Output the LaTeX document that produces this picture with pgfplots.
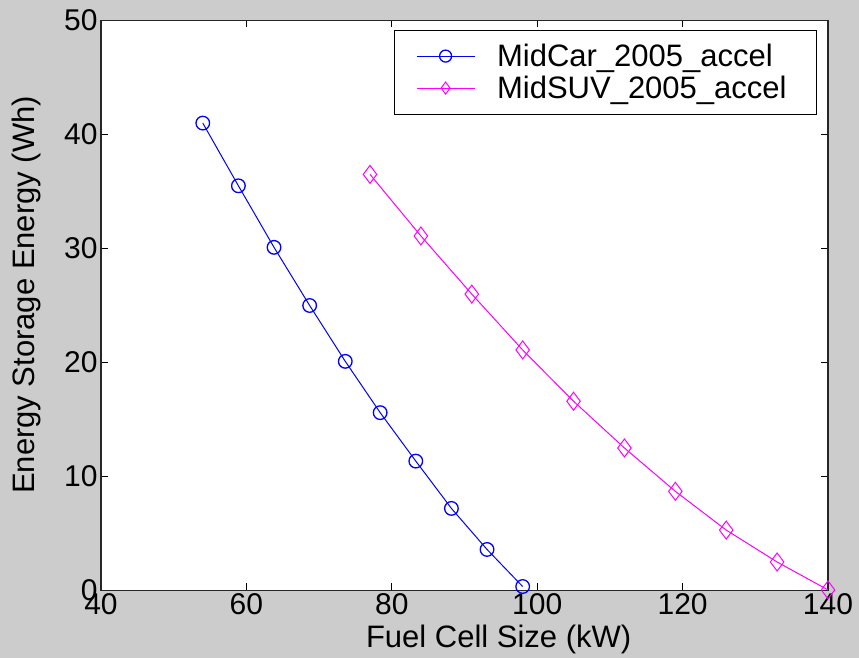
\documentclass[border=0pt]{standalone}
\usepackage{fontspec}
\setmainfont{Liberation Sans}
\usepackage{pgfplots}
\pgfplotsset{compat=1.18}
\definecolor{bggray}{RGB}{204,204,204}
\definecolor{mblue}{RGB}{0,0,255}
\definecolor{mmag}{RGB}{255,0,255}
\begin{document}
\begin{tikzpicture}
\fill[bggray] (0,0) rectangle (859pt,658pt);
\begin{axis}[
  at={(101pt,67.5pt)}, anchor=south west,
  scale only axis, width=727pt, height=570pt,
  xmin=40, xmax=140, ymin=0, ymax=50,
  xtick={40,60,...,140}, ytick={0,10,...,50},
  tick align=inside, major tick length=7pt,
  tick style={black, line width=1pt},
  axis line style={line width=1.3pt, black!85},
  axis background/.style={fill=white},
  /pgf/number format/assume math mode=true,
  ticklabel style={font=\fontsize{30}{36}\selectfont},
  label style={font=\fontsize{31}{37}\selectfont},
  xlabel={Fuel Cell Size (kW)},
  ylabel={Energy Storage Energy (Wh)},
  xlabel style={at={(axis description cs:0.547,-0.1004)}, anchor=base, inner sep=0pt},
  ylabel style={at={(axis description cs:-0.1025,0.5186)}, anchor=center, inner sep=0pt},
  legend style={draw=black, line width=1pt, fill=white, at={(axis description cs:0.985,0.984)}, anchor=north east,
    font=\fontsize{31}{37}\selectfont, inner xsep=22pt, inner ysep=10pt, column sep=14pt,
    nodes={inner xsep=8pt, inner ysep=4pt}},
  legend cell align=left,
  legend image code/.code={\draw[mark=none] (0pt,0pt) -- (58pt,0pt); \draw plot[only marks, mark size=6pt] coordinates {(29pt,0pt)};},
]
\addplot[mblue, line width=1pt, mark=o, mark size=6.8pt, mark options={line width=1.3pt}] coordinates {
  (54,41.0) (58.9,35.5) (63.8,30.1) (68.7,25.0) (73.6,20.1) (78.4,15.6) (83.3,11.35) (88.2,7.2) (93.1,3.6) (98,0.35)
};
\addlegendentry{MidCar\_2005\_accel}
\addplot[mmag, line width=1pt, mark=diamond, mark size=9pt, mark options={line width=1pt}] coordinates {
  (77,36.5) (84,31.1) (91,26.0) (98,21.1) (105,16.6) (112,12.5) (119,8.7) (126,5.3) (133,2.5) (140,0.05)
};
\addlegendentry{MidSUV\_2005\_accel}
\end{axis}
\pgfresetboundingbox
\path (0,0) rectangle (859pt,658pt);
\end{tikzpicture}
\end{document}
